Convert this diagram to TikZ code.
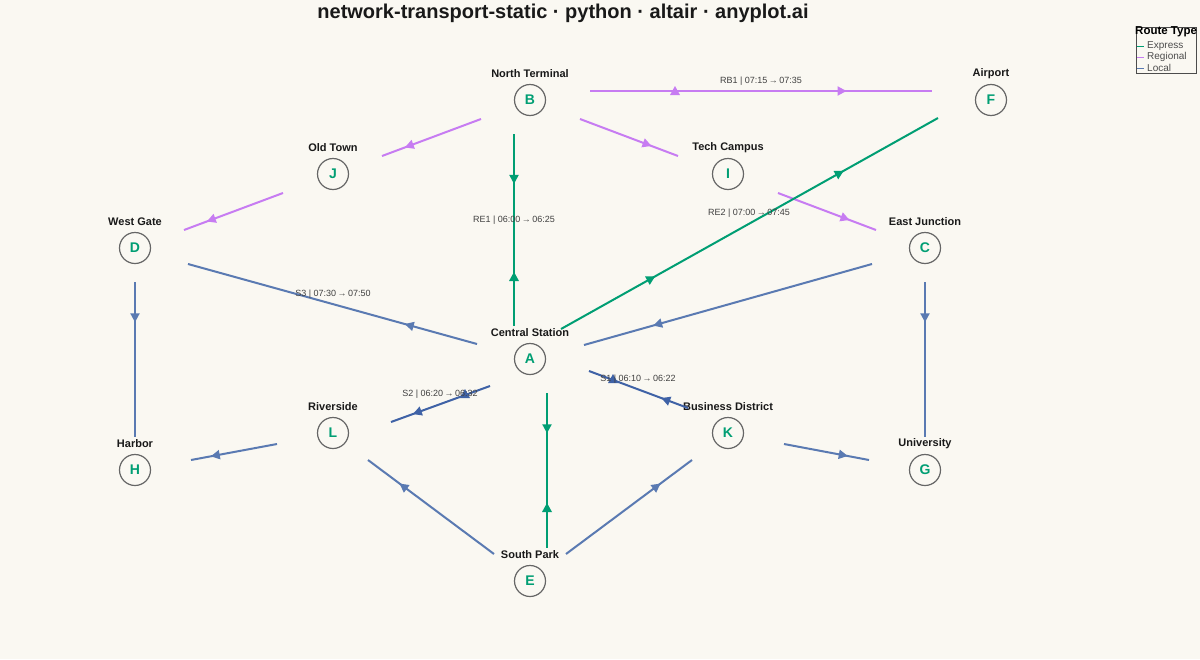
\documentclass[tikz,border=0pt]{standalone}
\usepackage{fontspec}
\setmainfont{Liberation Sans}
\usetikzlibrary{decorations.markings,arrows.meta}
\definecolor{bg}{HTML}{FAF8F2}
\definecolor{cexp}{HTML}{009E73}
\definecolor{creg}{HTML}{C77CF2}
\definecolor{cloc}{HTML}{5A7AB2}
\definecolor{cdark}{HTML}{3F62A6}
\begin{document}
\begin{tikzpicture}[x=1pt,y=-1pt,
  stn/.style={circle,draw=black!60,line width=1.2pt,minimum size=31pt,inner sep=0pt,fill=bg,text=cexp,font=\bfseries\fontsize{14}{14}\selectfont},
  nm/.style={font=\bfseries\fontsize{11}{11}\selectfont,text=black!90},
  el/.style={font=\fontsize{9}{9}\selectfont,text=black!75},
  ed/.style={line width=2pt},
  ar/.style={postaction={decorate,decoration={markings,mark=at position #1 with {\arrow{Triangle[length=9pt,width=9pt]}}}}},
  up/.style={fill=#1},
]
\fill[bg] (0,0) rectangle (1200,659);
\useasboundingbox (0,0) rectangle (1200,659);
\node[font=\bfseries\fontsize{20}{20}\selectfont,text=black!90] (title) at (563,13) {network-transport-static · python · altair · anyplot.ai};
% stations
\foreach \n/\l/\x/\y/\t in {B/B/530/100/North Terminal,F/F/991/100/Airport,J/J/333/174/Old Town,I/I/728/174/Tech Campus,D/D/135/248/West Gate,C/C/925/248/East Junction,A/A/530/359/Central Station,L/L/333/433/Riverside,K/K/728/433/Business District,H/H/135/470/Harbor,G/G/925/470/University,E/E/530/581/South Park}{
  \node[stn] (\n) at (\x,\y) {\l};
  \node[nm] (\n lab) at (\x,\y-26) {\t};
}
% endpoints
\foreach \n/\x/\y in {bf1/590/91,bf2/932/91,bj1/481/119,bj2/382/156,jd1/283/193,jd2/184/230,bi1/580/119,bi2/678/156,ic1/778/193,ic2/876/230,
 ba1/514/134,ba2/514/326,af1/561/329,af2/938/118,ad1/477/344,ad2/188/264,ca1/872/264,ca2/584/345,dh1/135/282,dh2/135/437,cg1/925/282,cg2/925/437,
 al1/490/386,al2/391/422,ka1/688/408,ka2/589/371,lh1/277/444,lh2/191/460,kg1/784/444,kg2/869/460,ae1/547/393,ae2/547/548,el1/494/554,el2/368/460,ek1/566/554,ek2/692/460}{\coordinate (\n) at (\x,\y);}
\draw[ed,creg,ar=0.75] (bf1) -- (bf2);
\draw[ed,creg,ar=0.77] (bj1) -- (bj2);
\draw[ed,creg,ar=0.77] (jd1) -- (jd2);
\draw[ed,creg,ar=0.73] (bi1) -- (bi2);
\draw[ed,creg,ar=0.73] (ic1) -- (ic2);
\draw[ed,cexp,ar=0.26] (ba1) -- (ba2);
\draw[ed,cexp,ar=0.25,ar=0.75] (af1) -- (af2);
\draw[ed,cloc,ar=0.25] (ad1) -- (ad2);
\draw[ed,cloc,ar=0.76] (ca1) -- (ca2);
\draw[ed,cloc,ar=0.26] (dh1) -- (dh2);
\draw[ed,cloc,ar=0.26] (cg1) -- (cg2);
\draw[ed,cdark,ar=0.78] (al1) -- (al2);
\draw[ed,cdark,ar=0.27] (ka1) -- (ka2);
\draw[ed,cloc,ar=0.77] (lh1) -- (lh2);
\draw[ed,cloc,ar=0.75] (kg1) -- (kg2);
\draw[ed,cexp,ar=0.26] (ae1) -- (ae2);
\draw[ed,cloc,ar=0.75] (el1) -- (el2);
\draw[ed,cloc,ar=0.75] (ek1) -- (ek2);
% upward markers
\foreach \x/\y/\c in {675/91/creg,514/277/cexp,547/508/cexp,465/394/cdark,613/379/cdark}{
  \fill[\c] (\x-5,\y+4) -- (\x+5,\y+4) -- (\x,\y-5) -- cycle;}
% labels
\node[el] (l1) at (761,81) {RB1 | 07:15\,→\,07:35};
\node[el] (l2) at (514,220) {RE1 | 06:00\,→\,06:25};
\node[el] (l3) at (749,213) {RE2 | 07:00\,→\,07:45};
\node[el] (l4) at (333,294) {S3 | 07:30\,→\,07:50};
\node[el] (l5) at (440,394) {S2 | 06:20\,→\,06:32};
\node[el] (l6) at (638,379) {S1 | 06:10\,→\,06:22};
% legend
\draw[black!70,line width=0.6pt,fill=bg] (1136,27) rectangle (1196,73);
\node[font=\bfseries\fontsize{11.5}{11.5}\selectfont,anchor=west,inner sep=0pt] (lt) at (1135,32) {Route Type};
\foreach \y/\c/\t in {46/cexp/Express,57/creg/Regional,68/cloc/Local}{
  \draw[\c,line width=1pt] (1137,\y) -- (1144,\y);
  \node[font=\fontsize{10}{10}\selectfont,text=black!70,anchor=west,inner sep=0pt] at (1147,\y) {\t};}
\end{tikzpicture}
\end{document}
